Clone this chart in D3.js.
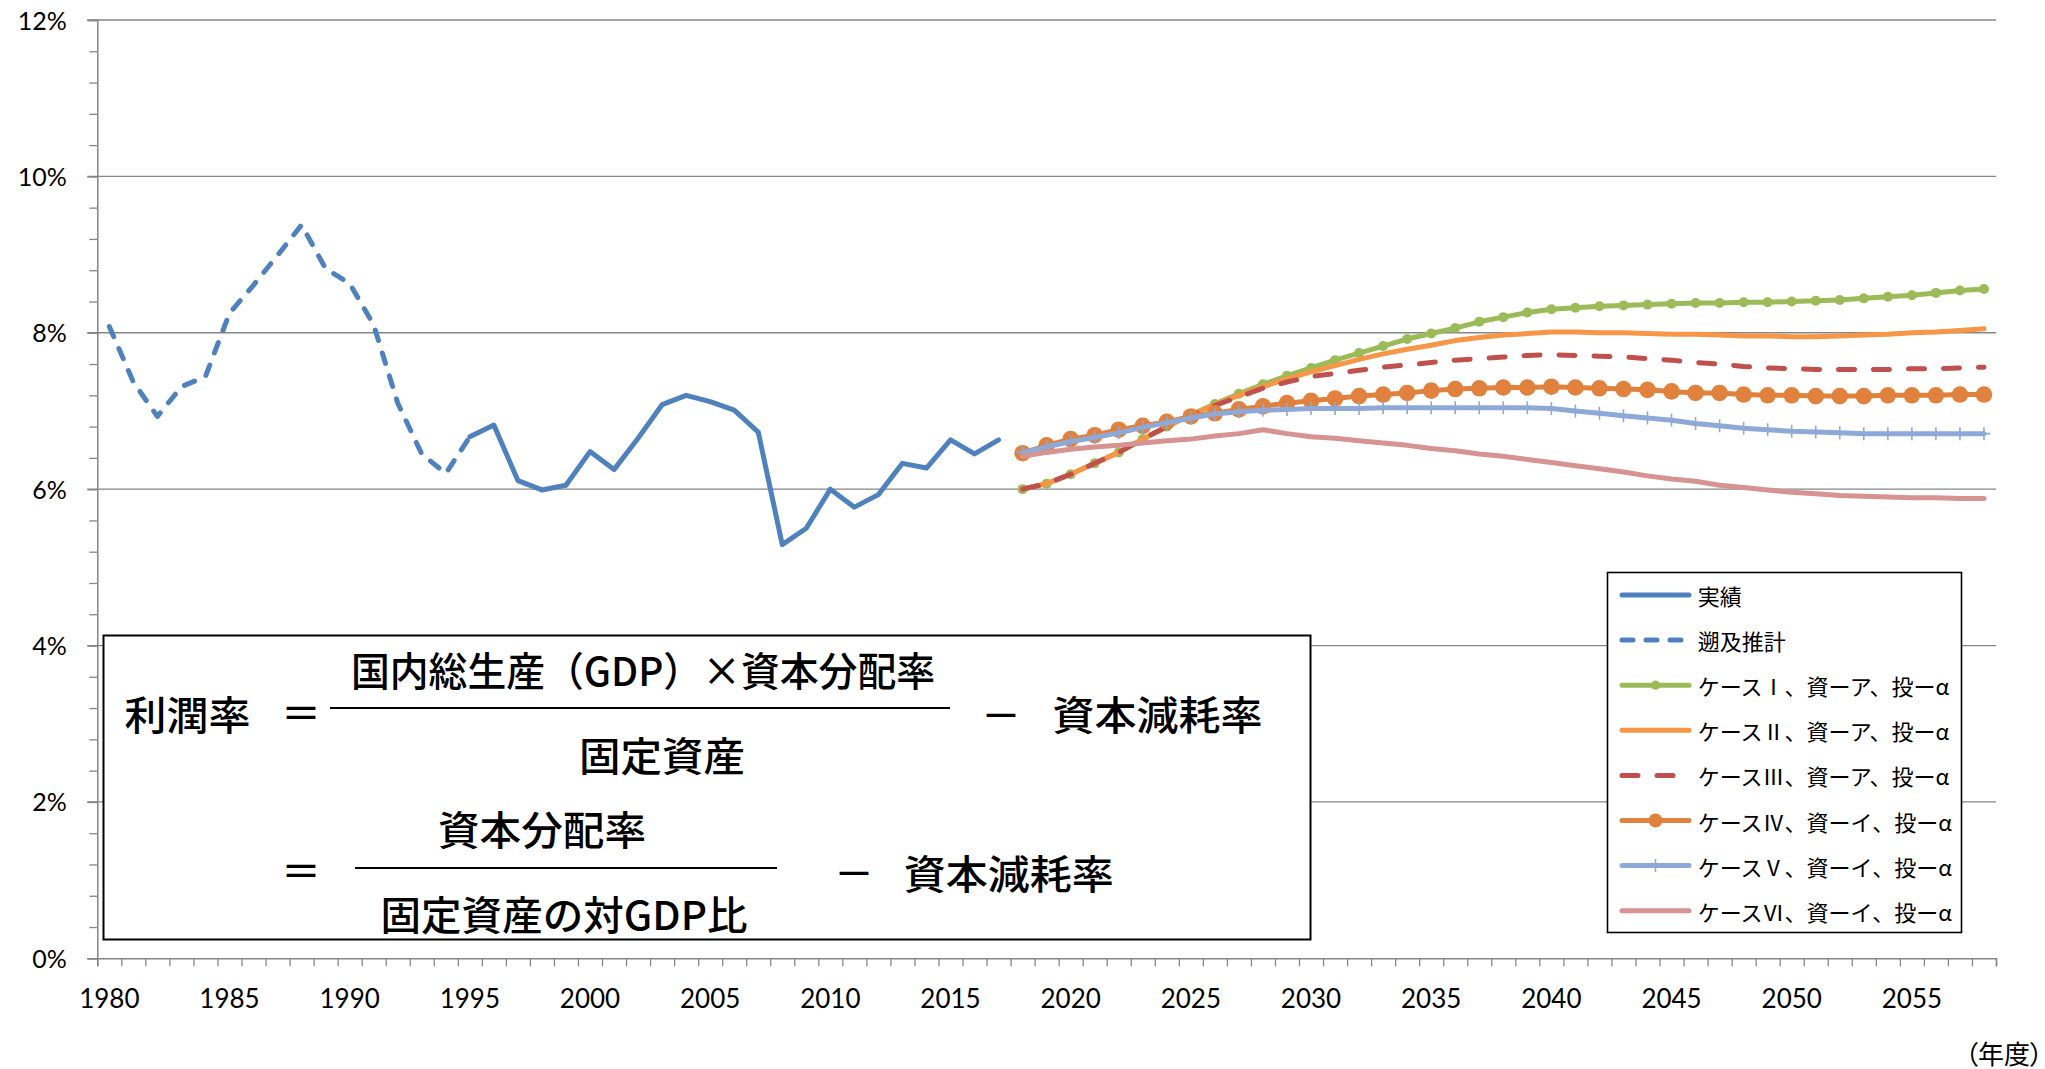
<!DOCTYPE html>
<html lang="ja">
<head>
<meta charset="utf-8">
<title>利潤率の推移と見通し</title>
<script src="https://cdn.jsdelivr.net/npm/d3@7"></script>
<style>
  html, body { margin: 0; padding: 0; background: #fff; }
  svg { display: block; }
  .num { font-family: Lato, "Open Sans", "Liberation Sans", sans-serif; }
  .jp { font-family: "Noto Sans CJK JP", "Noto Sans", sans-serif; }
  .palt { font-feature-settings: "palt" 1; }
</style>
</head>
<body>
<svg id="chart" width="2045" height="1069"></svg>
<script>
// ---- カテゴリ（年度）と目盛り ----
const years = d3.range(1980, 2059);
const xTickLabels = [1980, 1985, 1990, 1995, 2000, 2005, 2010, 2015, 2020, 2025, 2030, 2035, 2040, 2045, 2050, 2055];
const yTickValues = [0, 2, 4, 6, 8, 10, 12];          // %
const yMinorStep = 0.4;                               // %

// ---- 系列データ（利潤率, %） ----
// 遡及推計 1980–1995
const retroYears = d3.range(1980, 1996);
const retroValues = [8.08, 7.37, 6.93, 7.31, 7.44, 8.25, 8.61, 8.99, 9.38, 8.82,
                     8.63, 8.10, 7.10, 6.45, 6.20, 6.67];
// 実績 1995–2017
const actualYears = d3.range(1995, 2018);
const actualValues = [6.67, 6.82, 6.11, 5.99, 6.05, 6.48, 6.25, 6.65, 7.08, 7.20,
                      7.12, 7.01, 6.73, 5.29, 5.50, 6.00, 5.77, 5.93, 6.33, 6.27,
                      6.63, 6.45, 6.63];
// 将来見通し 2018–2058
const projYears = d3.range(2018, 2059);
const case1Values = [6.00, 6.07, 6.19, 6.33, 6.47, 6.64, 6.80, 6.95, 7.09, 7.22,
                     7.34, 7.45, 7.55, 7.65, 7.74, 7.83, 7.92, 7.99, 8.06, 8.14,
                     8.20, 8.26, 8.30, 8.32, 8.34, 8.35, 8.36, 8.37, 8.38, 8.38,
                     8.39, 8.39, 8.40, 8.41, 8.42, 8.44, 8.46, 8.48, 8.51, 8.54,
                     8.56];
const case2Values = [6.00, 6.07, 6.19, 6.33, 6.47, 6.64, 6.80, 6.95, 7.08, 7.20,
                     7.31, 7.41, 7.50, 7.58, 7.66, 7.73, 7.79, 7.84, 7.90, 7.94,
                     7.97, 7.99, 8.01, 8.01, 8.00, 8.00, 7.99, 7.98, 7.98, 7.97,
                     7.96, 7.96, 7.95, 7.95, 7.96, 7.97, 7.98, 8.00, 8.01, 8.03,
                     8.05];
const case3Values = [6.00, 6.07, 6.19, 6.33, 6.47, 6.64, 6.80, 6.95, 7.07, 7.18,
                     7.29, 7.37, 7.44, 7.48, 7.52, 7.56, 7.59, 7.62, 7.65, 7.67,
                     7.69, 7.71, 7.72, 7.71, 7.70, 7.69, 7.67, 7.65, 7.62, 7.60,
                     7.57, 7.55, 7.54, 7.53, 7.53, 7.53, 7.53, 7.54, 7.54, 7.55,
                     7.56];
const case4Values = [6.46, 6.56, 6.64, 6.69, 6.76, 6.81, 6.86, 6.93, 6.97, 7.02,
                     7.06, 7.10, 7.13, 7.16, 7.19, 7.21, 7.23, 7.26, 7.28, 7.29,
                     7.30, 7.30, 7.31, 7.30, 7.29, 7.28, 7.27, 7.25, 7.23, 7.23,
                     7.21, 7.20, 7.20, 7.19, 7.19, 7.19, 7.20, 7.20, 7.20, 7.21,
                     7.21];
const case5Values = [6.47, 6.54, 6.61, 6.66, 6.72, 6.79, 6.85, 6.91, 6.96, 6.99,
                     7.01, 7.02, 7.03, 7.03, 7.03, 7.04, 7.04, 7.04, 7.04, 7.04,
                     7.04, 7.04, 7.03, 7.00, 6.97, 6.94, 6.91, 6.88, 6.84, 6.81,
                     6.78, 6.76, 6.74, 6.73, 6.72, 6.71, 6.71, 6.71, 6.71, 6.71,
                     6.71];
const case6Values = [6.42, 6.47, 6.51, 6.54, 6.56, 6.59, 6.62, 6.64, 6.68, 6.71,
                     6.76, 6.71, 6.67, 6.65, 6.62, 6.59, 6.56, 6.52, 6.49, 6.45,
                     6.42, 6.38, 6.34, 6.30, 6.26, 6.22, 6.17, 6.13, 6.10, 6.05,
                     6.02, 5.99, 5.96, 5.94, 5.92, 5.91, 5.90, 5.89, 5.89, 5.88,
                     5.88];

const seriesNames = ["実績", "遡及推計",
  "ケースⅠ、資ーア、投ーα", "ケースⅡ、資ーア、投ーα", "ケースⅢ、資ーア、投ーα",
  "ケースⅣ、資ーイ、投ーα", "ケースⅤ、資ーイ、投ーα", "ケースⅥ、資ーイ、投ーα"];

// ---- 表示設定 ----
const styles = [
  { color: "#4F81BD", dash: null,    marker: null },
  { color: "#4F81BD", dash: "11,13", marker: null },
  { color: "#9BBB59", dash: null,    marker: "dot" },
  { color: "#F79646", dash: null,    marker: null },
  { color: "#C0504D", dash: "16,19", marker: null },
  { color: "#E0823D", dash: null,    marker: "circle" },
  { color: "#8EA9D8", dash: null,    marker: "plus" },
  { color: "#D69391", dash: null,    marker: null }
];
const seriesData = [
  [actualYears, actualValues], [retroYears, retroValues],
  [projYears, case1Values], [projYears, case2Values], [projYears, case3Values],
  [projYears, case4Values], [projYears, case5Values], [projYears, case6Values]
];
// 描画順は凡例順
const series = seriesNames.map((name, i) => {
  const [ys, vs] = seriesData[i];
  return { name, ...styles[i], points: ys.map((yr, k) => ({ year: yr, value: vs[k] })) };
});

const svg = d3.select("#chart");
const plot = { left: 97.3, right: 1996, top: 20, bottom: 958.3 };

const x = d3.scaleBand().domain(years).range([plot.left, plot.right]).padding(0);
const xc = yr => x(yr) + x.bandwidth() / 2;
const xEdge = d3.scaleLinear().domain([1980, 2059]).range([plot.left, plot.right]);
const y = d3.scaleLinear().domain([0, 12]).range([plot.bottom, plot.top]);

const axisColor = "#868686";

// 目盛線
svg.append("g")
  .selectAll("line")
  .data(yTickValues.filter(v => v > 0))
  .join("line")
  .attr("x1", plot.left - 10).attr("x2", plot.right)
  .attr("y1", d => y(d)).attr("y2", d => y(d))
  .attr("stroke", axisColor).attr("stroke-width", 1.3);

// 縦軸（補助目盛）
const minorVals = d3.range(0, 12.0001, yMinorStep).map(v => +v.toFixed(1));
svg.append("g")
  .attr("transform", `translate(${plot.left},0)`)
  .call(d3.axisLeft(y).tickValues(minorVals).tickSize(8).tickFormat(""))
  .call(g => g.select(".domain").remove())
  .call(g => g.selectAll("line").attr("stroke", axisColor).attr("stroke-width", 1.3));

// 縦軸（主目盛とラベル）
svg.append("g")
  .attr("transform", `translate(${plot.left},0)`)
  .call(d3.axisLeft(y).tickValues(yTickValues).tickSize(10).tickFormat(d => d + "%"))
  .call(g => g.select(".domain").attr("stroke", axisColor).attr("stroke-width", 1.5))
  .call(g => g.selectAll("line").attr("stroke", axisColor).attr("stroke-width", 1.3))
  .call(g => g.selectAll("text")
    .attr("class", "num").attr("x", -30.6).attr("dy", "0.36em")
    .attr("font-size", 25).attr("fill", "#000"));

// 横軸（区切り目盛）
svg.append("g")
  .attr("transform", `translate(0,${plot.bottom})`)
  .call(d3.axisBottom(xEdge).tickValues(d3.range(1980, 2060)).tickSize(8).tickFormat(""))
  .call(g => g.select(".domain").attr("stroke", axisColor).attr("stroke-width", 1.5))
  .call(g => g.selectAll("line").attr("stroke", axisColor).attr("stroke-width", 1.3));

// 横軸ラベル
svg.append("g")
  .attr("transform", `translate(0,${plot.bottom})`)
  .call(d3.axisBottom(x).tickValues(xTickLabels).tickSize(0))
  .call(g => g.select(".domain").remove())
  .call(g => g.selectAll("text")
    .attr("class", "num").attr("y", 50).attr("dy", 0)
    .attr("font-size", 26).attr("fill", "#000"));

svg.append("text")
  .attr("class", "jp palt")
  .attr("x", 2043).attr("y", 1052)
  .attr("text-anchor", "end").attr("dominant-baseline", "central")
  .attr("font-size", 26).attr("fill", "#000")
  .text("（年度）");

// 系列
const line = d3.line().x(d => xc(d.year)).y(d => y(d.value));
const gSeries = svg.append("g");
function drawMarker(sel, s, px, py, legend) {
  if (s.marker === "dot") {
    sel.append("circle").attr("cx", px).attr("cy", py).attr("r", legend ? 4.6 : 5).attr("fill", s.color);
  } else if (s.marker === "circle") {
    sel.append("circle").attr("cx", px).attr("cy", py).attr("r", legend ? 7 : 8.3).attr("fill", s.color);
  } else if (s.marker === "plus") {
    sel.append("path")
      .attr("d", `M${px - 6.5},${py}H${px + 6.5}M${px},${py - 6.5}V${py + 6.5}`)
      .attr("stroke", s.color).attr("stroke-width", 1.6).attr("fill", "none");
  }
}
series.forEach(s => {
  const g = gSeries.append("g");
  g.append("path")
    .datum(s.points)
    .attr("d", line)
    .attr("fill", "none")
    .attr("stroke", s.color)
    .attr("stroke-width", 5)
    .attr("stroke-linejoin", "round")
    .attr("stroke-linecap", "round")
    .attr("stroke-dasharray", s.dash);
  if (s.marker) {
    s.points.forEach(p => drawMarker(g, s, xc(p.year), y(p.value), false));
  }
});

// 凡例
const lg = svg.append("g");
lg.append("rect")
  .attr("x", 1607.5).attr("y", 572.5).attr("width", 354).attr("height", 360)
  .attr("fill", "#fff").attr("stroke", "#000").attr("stroke-width", 1.6);
series.forEach((s, i) => {
  const cy = 595 + i * 45.1;
  const row = lg.append("g");
  row.append("line")
    .attr("x1", 1622).attr("x2", 1689).attr("y1", cy).attr("y2", cy)
    .attr("stroke", s.color).attr("stroke-width", 5)
    .attr("stroke-linecap", "round")
    .attr("stroke-dasharray", s.dash);
  if (s.marker) drawMarker(row, s, 1655.5, cy, true);
  row.append("text")
    .attr("class", "jp")
    .attr("x", 1697.7).attr("y", cy)
    .attr("dominant-baseline", "central")
    .attr("font-size", 22).attr("fill", "#000")
    .text(s.name);
});

// 利潤率の算式
const fb = svg.append("g");
fb.append("rect")
  .attr("x", 103.5).attr("y", 635.5).attr("width", 1207).attr("height", 304)
  .attr("fill", "#fff").attr("stroke", "#000").attr("stroke-width", 2);
const formulaTexts = [
  { t: "利潤率", cx: 187.5, cy: 712.5, len: 126 },
  { t: "＝", cx: 301, cy: 711 },
  { t: "国内総生産（GDP）×資本分配率", cx: 643, cy: 669, len: 584 },
  { t: "固定資産", cx: 662, cy: 754, len: 166 },
  { t: "－", cx: 1001, cy: 713 },
  { t: "資本減耗率", cx: 1157.5, cy: 712.5, len: 210 },
  { t: "資本分配率", cx: 542, cy: 828, len: 208 },
  { t: "＝", cx: 301, cy: 869 },
  { t: "固定資産の対GDP比", cx: 564, cy: 913, len: 367 },
  { t: "－", cx: 854, cy: 871 },
  { t: "資本減耗率", cx: 1008.7, cy: 872, len: 210 }
];
formulaTexts.forEach(f => {
  const t = fb.append("text")
    .attr("class", "jp")
    .attr("x", f.cx).attr("y", f.cy)
    .attr("text-anchor", "middle").attr("dominant-baseline", "central")
    .attr("font-size", 40).attr("font-weight", 500).attr("fill", "#000")
    .text(f.t);
  if (f.len) t.attr("textLength", f.len).attr("lengthAdjust", "spacingAndGlyphs");
});
fb.append("line").attr("x1", 330).attr("x2", 950).attr("y1", 708).attr("y2", 708)
  .attr("stroke", "#000").attr("stroke-width", 2);
fb.append("line").attr("x1", 355).attr("x2", 777).attr("y1", 868).attr("y2", 868)
  .attr("stroke", "#000").attr("stroke-width", 2);
</script>
</body>
</html>
